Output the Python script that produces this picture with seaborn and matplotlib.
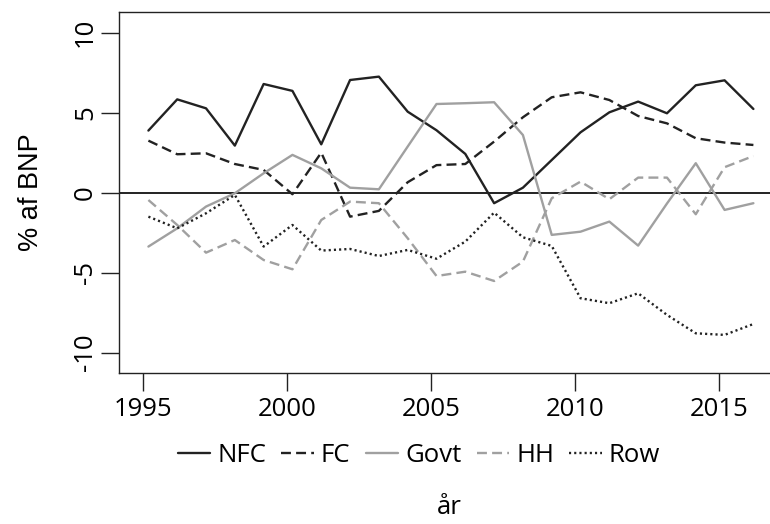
import matplotlib
matplotlib.use("Agg")
import matplotlib.pyplot as plt
import seaborn as sns
import numpy as np
import pandas as pd

years = np.arange(1995, 2017)
nfc = [3.88, 5.83, 5.27, 2.94, 6.79, 6.36, 3.02, 7.04, 7.25, 5.06, 3.90, 2.42,
       -0.66, 0.31, 2.04, 3.77, 5.02, 5.69, 4.96, 6.71, 7.02, 5.23]
fc = [3.25, 2.40, 2.46, 1.79, 1.42, -0.10, 2.50, -1.50, -1.14, 0.65, 1.72, 1.79,
      3.19, 4.71, 5.96, 6.27, 5.79, 4.79, 4.33, 3.40, 3.13, 2.98]
govt = [-3.37, -2.23, -0.87, -0.04, 1.21, 2.36, 1.52, 0.31, 0.21, 2.88, 5.54, 5.59,
        5.65, 3.60, -2.64, -2.44, -1.81, -3.31, -0.68, 1.84, -1.08, -0.66]
hh = [-0.46, -2.02, -3.75, -2.96, -4.21, -4.79, -1.71, -0.56, -0.66, -2.85, -5.21, -4.94,
      -5.52, -4.31, -0.35, 0.69, -0.41, 0.94, 0.94, -1.35, 1.59, 2.29]
row = [-1.50, -2.23, -1.29, -0.14, -3.37, -2.02, -3.62, -3.52, -3.96, -3.58, -4.13, -3.06,
       -1.25, -2.79, -3.33, -6.60, -6.91, -6.29, -7.64, -8.79, -8.89, -8.21]
series_names = ["NFC", "FC", "Govt", "HH", "Row"]
series_values = [nfc, fc, govt, hh, row]
x_ticks = [1995, 2000, 2005, 2010, 2015]
y_ticks = [-10, -5, 0, 5, 10]

sns.set_theme(style="ticks")
plt.rcParams['font.family'] = ['Open Sans', 'DejaVu Sans']
plt.rcParams['text.color'] = 'black'
plt.rcParams['xtick.labelcolor'] = 'black'
plt.rcParams['ytick.labelcolor'] = 'black'

fig = plt.figure(figsize=(7.7, 5.24), dpi=100)
ax = fig.add_axes([0.1542, 0.2876, 0.8478, 0.6895])

black = "#222222"
gray = "#a0a0a0"
styles = {
    "NFC": dict(color=black, linestyle="-"),
    "FC": dict(color=black, dashes=(4.2, 2.2)),
    "Govt": dict(color=gray, linestyle="-"),
    "HH": dict(color=gray, dashes=(4.2, 2.2)),
    "Row": dict(color=black, dashes=(0.9, 1.3)),
}

# data sits slightly past the year mark (mid-year-ish positions)
xpos = years + 0.2

ax.axhline(0, color=black, lw=1.4, zorder=1)
for name, vals in zip(series_names, series_values):
    df = pd.DataFrame({"x": xpos, "y": vals})
    st = styles[name]
    sns.lineplot(data=df, x="x", y="y", ax=ax, color=st["color"], lw=1.7,
                 label=name, legend=False)
    l = ax.lines[-1]
    if "dashes" in st:
        l.set_dashes(st["dashes"])
    else:
        l.set_linestyle(st["linestyle"])

ax.set_xlim(1994.17, 2016.83)
ax.set_ylim(-11.29, 11.29)
ax.set_xticks(x_ticks)
ax.set_yticks(y_ticks)
ax.set_xticklabels([str(t) for t in x_ticks], fontsize=18.5)
ax.set_yticklabels([str(t) for t in y_ticks], fontsize=18.5, rotation=90, va="center")
ax.tick_params(axis="both", direction="out", length=13, width=1.0, color=black, pad=2)
ax.tick_params(axis="x", pad=4)
for s in ax.spines.values():
    s.set_color(black)
    s.set_linewidth(1.0)
ax.set_xlabel("")
ax.set_ylabel("")

fig.text(31 / 770, 1 - 192 / 524, "% af BNP", rotation=90, ha="center", va="center",
         fontsize=19.5, family=["Liberation Sans", "DejaVu Sans"], color="black")
fig.text(449 / 770, 1 - 508 / 524, "år", ha="center", va="center", fontsize=18.5)

handles = ax.lines[1:]
leg = fig.legend(handles, series_names, loc="center", ncol=5, frameon=False,
                 bbox_to_anchor=(419 / 770, 1 - 455 / 524), fontsize=18.5,
                 handlelength=1.25, handletextpad=0.28, columnspacing=0.6)

fig.savefig("out.png", dpi=100)
